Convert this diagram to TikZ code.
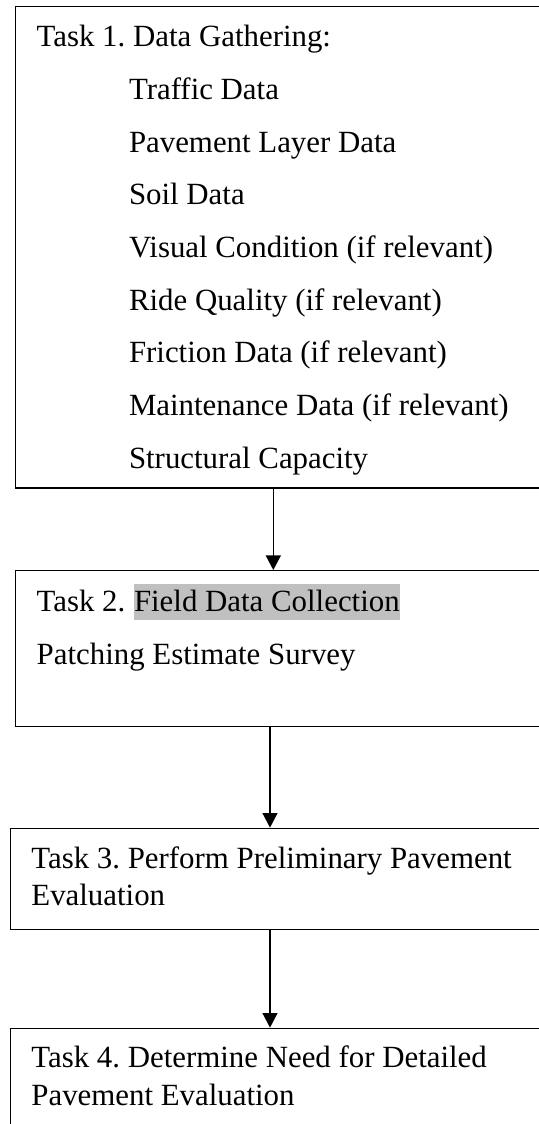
\documentclass[tikz,border=0pt]{standalone}
\usepackage{fontspec}
\setmainfont{Liberation Serif}
\usepackage{tikz}
\usetikzlibrary{fit,arrows.meta}
\definecolor{hlgray}{RGB}{192,192,192}
\frenchspacing

\begin{document}
\begin{tikzpicture}[x=0.5pt, y=-0.5pt, line width=0.7pt,
        taskbox/.style = {draw, rectangle, inner sep=0pt},
        txt/.style = {anchor=base west, inner sep=0pt, font=\fontsize{15.43}{18.5}\selectfont},
        arr/.style = {-{Triangle[length=7.3pt, width=7.5pt]}}]
        \useasboundingbox (0,0) rectangle (539,1124);
        \clip (0,0) rectangle (539,1124);

        \node[taskbox, fit={(15.3,6.3) (560,488)}] (box1) {};
        \node[taskbox, fit={(15.3,570.7) (560,726.7)}] (box2) {};
        \node[taskbox, fit={(10.3,828.3) (560,929.3)}] (box3) {};
        \node[taskbox, fit={(10.3,1028.3) (560,1140)}] (box4) {};

        \node[txt] (t1) at (36,46.7) {Task 1. Data Gathering:};
        \foreach \item [count=\i] in {Traffic Data, Pavement Layer Data, Soil Data,
                Visual Condition (if relevant), Ride Quality (if relevant),
                Friction Data (if relevant), Maintenance Data (if relevant),
                Structural Capacity}
            \node[txt] (d\i) at (128.3,46.7+52.7*\i) {\item};

        \node[txt] (t2) at (36,611.7) {Task 2.};
        \node[txt, fill=hlgray, text height=14pt, text depth=4pt] (hl) at (133.3,611.7) {Field Data Collection};
        \node[txt] (p2) at (36,664) {Patching Estimate Survey};

        \node[txt] (t3) at (30.7,868.3) {Task 3. Perform Preliminary Pavement};
        \node[txt] (e3) at (30.7,905) {Evaluation};

        \node[txt] (t4) at (30.7,1067.3) {Task 4. Determine Need for Detailed};
        \node[txt] (e4) at (30.7,1105) {Pavement Evaluation};

        \coordinate (a1) at (273.3,0);
        \coordinate (a2) at (270,0);
        \draw[arr] (box1.south -| a1) -- (box2.north -| a1);
        \draw[arr] (box2.south -| a2) -- (box3.north -| a2);
        \draw[arr] (box3.south -| a2) -- (box4.north -| a2);
\end{tikzpicture}
\end{document}
